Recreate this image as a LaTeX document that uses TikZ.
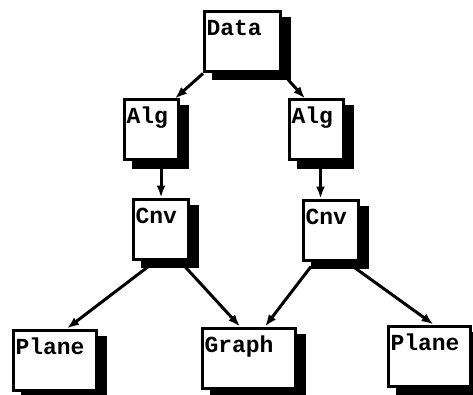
\documentclass[tikz,border=0pt]{standalone}
\usepackage{fontspec}
\setmonofont{Liberation Mono}
\usepackage{tikz}
\usetikzlibrary{arrows.meta, shadows}

\begin{document}
\begin{tikzpicture}[x=1pt, y=1pt,
  blk/.style={draw, line width=3pt, fill=white, rectangle, inner xsep=2pt, inner ysep=0pt,
    text width=#1-7pt, text height=24pt, text depth=36pt, align=left,
    font=\ttfamily\bfseries\fontsize{23}{23}\selectfont,
    drop shadow={shadow xshift=9pt, shadow yshift=-7pt, fill=black, draw=black, opacity=1}},
  lnk/.style={-{Latex[length=12pt,width=9pt]}, line width=3pt}]
\useasboundingbox (0,0) rectangle (473,394);
\node[blk=79pt] (data) at (242.5,352) {Data};
\node[blk=57pt] (algL) at (151.5,264) {Alg};
\node[blk=57pt] (algR) at (316.5,264) {Alg};
\node[blk=58pt] (cnvL) at (161,165) {Cnv};
\node[blk=58pt] (cnvR) at (331,164) {Cnv};
\node[blk=86pt] (planeL) at (55,34) {Plane};
\node[blk=96pt] (graph) at (249,36) {Graph};
\node[blk=85pt] (planeR) at (429.5,38) {Plane};
\draw[lnk] (data.south west) -- ([xshift=-5pt]algL.north east);
\draw[lnk] ([xshift=6pt,yshift=-6pt]data.south east) -- ([xshift=17pt]algR.north west);
\draw[lnk] (algL.south -| cnvL.north) -- (cnvL.north);
\draw[lnk] ([xshift=4pt]algR.south) -- ([xshift=4pt]algR.south |- cnvR.north);
\draw[lnk] ([xshift=-10pt,yshift=-4pt]cnvL.south) -- ([xshift=12pt]planeL.north);
\draw[lnk] ([xshift=22pt,yshift=-4pt]cnvL.south) -- ([xshift=-9pt]graph.north);
\draw[lnk] ([xshift=-20pt,yshift=-5pt]cnvR.south) -- ([xshift=16pt]graph.north);
\draw[lnk] ([xshift=22pt,yshift=-5pt]cnvR.south) -- ([xshift=4pt]planeR.north);
\end{tikzpicture}
\end{document}
